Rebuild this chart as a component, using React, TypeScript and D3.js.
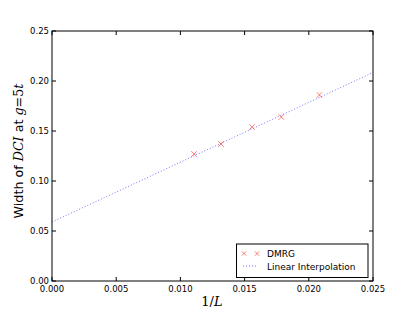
import * as d3 from 'd3'

const L_INV = [0.01106, 0.01316, 0.01557, 0.01786, 0.02083]
const WIDTH_DCI = [0.127, 0.137, 0.154, 0.164, 0.186]
const FIT_X = [0.0, 0.025]
const FIT_Y = [0.059, 0.2085]
const X_TICKS = [0, 0.005, 0.01, 0.015, 0.02, 0.025]
const Y_TICKS = [0, 0.05, 0.1, 0.15, 0.2, 0.25]

const W = 415
const H = 313
const M = { left: 52, right: 42, top: 31, bottom: 32 }

export default function App() {
  const x = d3.scaleLinear().domain([0, 0.025]).range([M.left, W - M.right])
  const y = d3.scaleLinear().domain([0, 0.25]).range([H - M.bottom, M.top])

  const line = d3.line<number>()
    .x((_, i) => x(FIT_X[i]))
    .y(d => y(d))

  const font = 'DejaVu Sans, sans-serif'
  const tickLen = 4
  const x0 = x(0), x1 = x(0.025), y0 = y(0), y1 = y(0.25)

  const cross = (cx: number, cy: number, s: number) =>
    `M${cx - s},${cy - s}L${cx + s},${cy + s}M${cx - s},${cy + s}L${cx + s},${cy - s}`

  return (
    <svg width={W} height={H} style={{ position: 'absolute', left: 0, top: 0, background: '#fff' }}>
      <defs>
        <clipPath id="plot">
          <rect x={x0} y={y1} width={x1 - x0} height={y0 - y1} />
        </clipPath>
      </defs>

      {/* fitted line */}
      <path
        d={line(FIT_Y) ?? ''}
        fill="none"
        stroke="#0000ff"
        strokeOpacity={0.55}
        strokeWidth={1}
        strokeDasharray="1,2"
        clipPath="url(#plot)"
      />

      {/* DMRG markers */}
      {L_INV.map((d, i) => (
        <path key={i} d={cross(x(d), y(WIDTH_DCI[i]), 2.8)} stroke="#ff0000" strokeOpacity={0.5} strokeWidth={1} fill="none" />
      ))}

      {/* frame */}
      <rect x={x0} y={y1} width={x1 - x0} height={y0 - y1} fill="none" stroke="#000" strokeWidth={1} />

      {/* x ticks */}
      {X_TICKS.map(t => (
        <g key={t}>
          <line x1={x(t)} x2={x(t)} y1={y0} y2={y0 - tickLen} stroke="#000" />
          <line x1={x(t)} x2={x(t)} y1={y1} y2={y1 + tickLen} stroke="#000" />
          <text x={x(t)} y={y0 + 11} fontSize={8.5} fontFamily={font} textAnchor="middle">
            {d3.format('.3f')(t)}
          </text>
        </g>
      ))}

      {/* y ticks */}
      {Y_TICKS.map(t => (
        <g key={t}>
          <line x1={x0} x2={x0 + tickLen} y1={y(t)} y2={y(t)} stroke="#000" />
          <line x1={x1} x2={x1 - tickLen} y1={y(t)} y2={y(t)} stroke="#000" />
          <text x={x0 - 3} y={y(t) + 3} fontSize={8.5} fontFamily={font} textAnchor="end">
            {d3.format('.2f')(t)}
          </text>
        </g>
      ))}

      {/* axis labels */}
      <text x={212} y={306} fontSize={13} fontFamily="DejaVu Serif, serif" textAnchor="middle">
        1/<tspan fontStyle="italic">L</tspan>
      </text>
      <text
        transform={`translate(23,151) rotate(-90)`}
        fontSize={12.7}
        fontFamily={font}
        textAnchor="middle"
      >
        Width of <tspan fontFamily="DejaVu Serif, serif" fontStyle="italic">DCI</tspan> at{' '}
        <tspan fontFamily="DejaVu Serif, serif" fontStyle="italic">g</tspan>
        <tspan fontFamily="DejaVu Serif, serif">=5</tspan>
        <tspan fontFamily="DejaVu Serif, serif" fontStyle="italic">t</tspan>
      </text>

      {/* legend */}
      <g>
        <rect x={236.5} y={244} width={131.5} height={33.5} fill="#fff" stroke="#000" strokeWidth={1} />
        <path d={cross(244, 253.5, 2.2)} stroke="#ff0000" strokeOpacity={0.5} fill="none" />
        <path d={cross(257, 253.5, 2.2)} stroke="#ff0000" strokeOpacity={0.5} fill="none" />
        <text x={267} y={257} fontSize={9} fontFamily={font}>DMRG</text>
        <line x1={243} x2={258} y1={266} y2={266} stroke="#0000ff" strokeOpacity={0.55} strokeDasharray="1,2" />
        <text x={267} y={269.5} fontSize={9} fontFamily={font}>Linear Interpolation</text>
      </g>
    </svg>
  )
}
